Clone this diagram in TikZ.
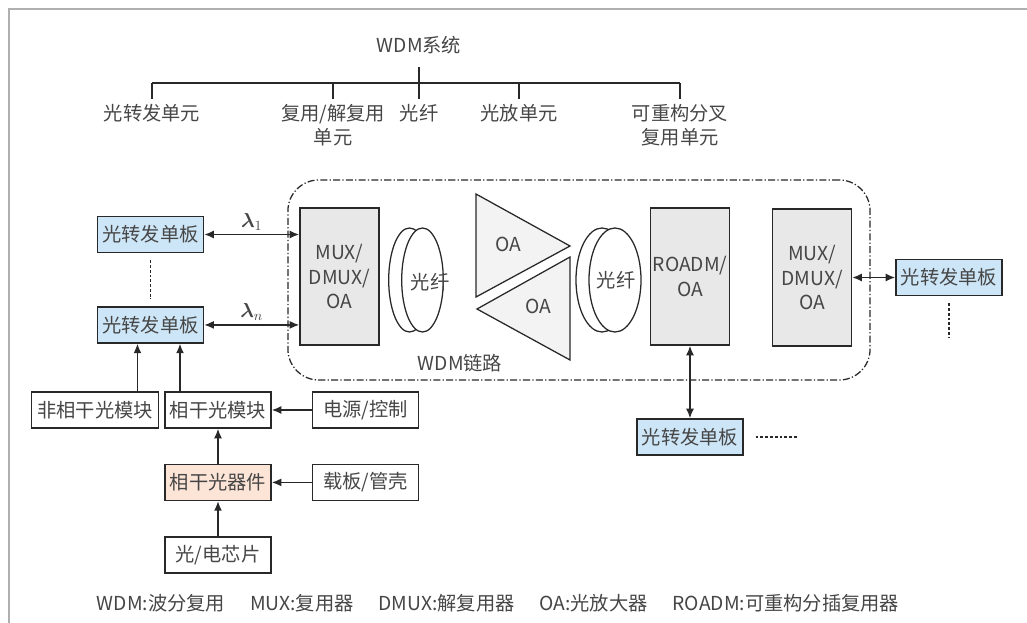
\documentclass[tikz,border=0pt]{standalone}
\usepackage{amsmath}
\usepackage{fontspec}
\setmainfont{Noto Sans CJK SC}
\usetikzlibrary{arrows.meta,positioning}
\definecolor{ink}{RGB}{40,40,40}
\definecolor{txt}{RGB}{70,70,70}
\definecolor{skyfill}{RGB}{205,230,247}
\definecolor{peach}{RGB}{252,229,215}
\definecolor{unitgray}{RGB}{232,232,232}
\definecolor{oagray}{RGB}{243,243,243}
\definecolor{edgegray}{RGB}{175,175,175}
\tikzset{
  >={Latex[length=2.4mm,width=2mm]},
  box/.style={draw=ink,line width=1pt,fill=#1,minimum width=2.65cm,
    minimum height=0.9cm,inner sep=1pt},
  box/.default=white,
  board/.style={box=skyfill},
  unit/.style={draw=ink,line width=1pt,fill=unitgray,minimum width=1.975cm,
    minimum height=3.425cm,align=center,inner sep=1pt},
  flow/.style={->,line width=1.1pt,draw=ink},
  both/.style={<->,line width=1.1pt,draw=ink},
  tree/.style={draw=ink,line width=0.9pt},
  tag/.style={align=center},
  dots/.style={draw=ink,line width=0.9pt,dash pattern=on 2pt off 1.4pt},
  link/.style={draw=ink,line width=0.9pt,rounded corners=22pt,
    dash pattern=on 5pt off 1.6pt on 0.9pt off 1.6pt},
  amp/.style={draw=ink,line width=0.9pt,fill=oagray},
  framed/.style={draw=edgegray,line width=0.8pt},
  % pictograms
  pics/fiber/.style={code={
    \draw[ink,line width=0.9pt,fill=white] (-6.5,0) ellipse (#1 and 1.3cm);
    \draw[ink,line width=0.9pt,fill=white] (6.5,0) ellipse (#1 and 1.3cm);
  }},
  pics/fiber/.default=0.52cm,
}

\begin{document}
\begin{tikzpicture}[x=0.025cm,y=-0.025cm,text=txt,font=\fontsize{13.7}{17.5}\selectfont]
  \useasboundingbox (0,0) rectangle (1027,623);
  \draw[framed] (9,623) -- (9,9) -- (1027,9);

  % system tree
  \node[tag] (sys) at (419,45) {WDM系统};
  \coordinate (bar) at (419,83);
  \foreach \x/\t [count=\i] in {152/光转发单元,333/{复用/解复用\\单元},419/光纤,519/光放单元,680/{可重构分叉\\复用单元}}
    \node[tag,anchor=north] (u\i) at (\x,99) {\t};
  \draw[tree] (u1.north |- bar) -- (u5.north |- bar);
  \draw[tree,shorten <=6pt] (sys.south) -- (u3.north);
  \foreach \i in {1,2,4,5}
    \draw[tree] (u\i.north |- bar) -- (u\i.north);

  % WDM link
  \node[link,minimum width=14.55cm,minimum height=5cm] (wdm) at (579,280) {};
  \node (wdmlbl) at (460,363) {WDM链路};
  \node[unit] (mux1) at (339.5,276.5) {MUX/\\DMUX/\\OA};
  \node[unit] (roadm) at (690,276.5) {ROADM/\\OA};
  \node[unit] (mux2) at (812,277.5) {MUX/\\DMUX/\\OA};
  \pic at (416,280) {fiber};
  \node (fib1) at (430,282) {光纤};
  \pic at (608.5,280) {fiber=0.65cm};
  \node (fib2) at (616,280) {光纤};
  \draw[amp] (476,194) -- (476,297) -- (570,246) -- cycle;
  \draw[amp] (477,309) -- (570,257) -- (570,360) -- cycle;
  \node (oa1) at (508,244) {OA};
  \node (oa2) at (538,306) {OA};

  % transceiver boards
  \node[board] (tb1) at (150.5,234.5) {光转发单板};
  \node[board,below=1.325cm of tb1] (tb2) {光转发单板};
  \node[board] (tb3) at (949,277.5) {光转发单板};
  \node[board] (tb4) at (690,437) {光转发单板};
  \coordinate (tb3end) at (949,338);
  \coordinate (tb4end) at (798,437);
  \draw[dots,shorten <=5pt,shorten >=5pt] (tb1.south) -- (tb2.north);
  \draw[dots,shorten <=5pt] (tb3.south) -- (tb3end);
  \draw[dots,shorten <=8.5pt] (tb4.east) -- (tb4end);
  \draw[both] (tb1.east) -- (tb1.east -| mux1.west)
    node[midway,above=-1pt] {$\boldsymbol{\lambda}_1$};
  \draw[both] (tb2.east) -- (tb2.east -| mux1.west)
    node[midway,above=-1pt] {$\boldsymbol{\lambda}_n$};
  \draw[both] (mux2.east) -- (tb3.west);
  \draw[both] (roadm.south) -- (tb4.north);

  % module chain
  \node[box] (cm) at (218,410) {相干光模块};
  \node[box,minimum width=3.175cm,left=0.125cm of cm] (nc) {非相干光模块};
  \node[box,right=1cm of cm] (pc) {电源/控制};
  \node[box=peach,below=0.875cm of cm] (dev) {相干光器件};
  \node[box,right=1cm of dev] (carrier) {载板/管壳};
  \node[box,below=0.875cm of dev] (chip) {光/电芯片};
  \draw[flow] ([xshift=1.06cm]nc.north) -- ([xshift=1.06cm]nc.north |- tb2.south);
  \draw[flow] ([xshift=-0.95cm]cm.north) -- ([xshift=-0.95cm]cm.north |- tb2.south);
  \draw[flow] (pc) -- (cm);
  \draw[flow] (carrier) -- (dev);
  \draw[flow] (dev) -- (cm);
  \draw[flow] (chip) -- (dev);

  % legend
  \node[anchor=west] (k1) at (92,603) {WDM:波分复用};
  \node[right=0.375cm of k1] (k2) {MUX:复用器};
  \node[right=0.375cm of k2] (k3) {DMUX:解复用器};
  \node[right=0.375cm of k3] (k4) {OA:光放大器};
  \node[right=0.375cm of k4] (k5) {ROADM:可重构分插复用器};
\end{tikzpicture}
\end{document}
